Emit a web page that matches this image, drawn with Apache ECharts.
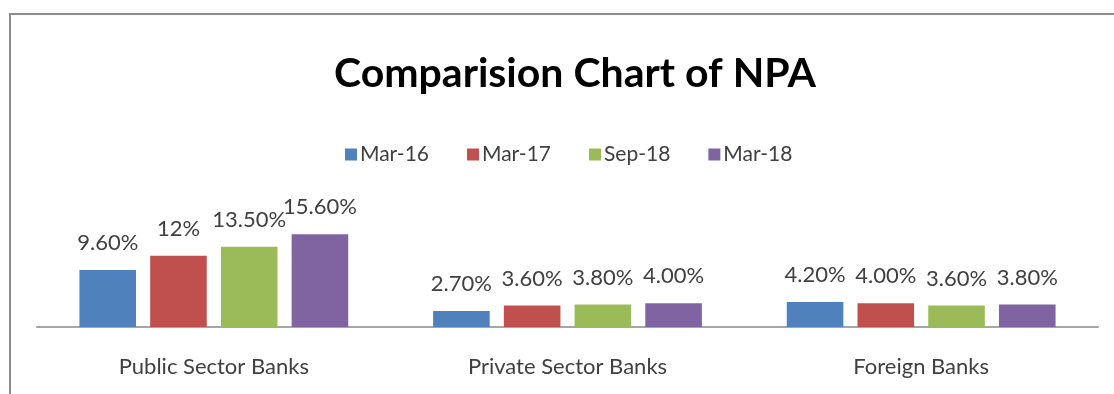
<!DOCTYPE html>
<html>
<head>
<meta charset="utf-8">
<title>Comparision Chart of NPA</title>
<script src="https://cdn.jsdelivr.net/npm/echarts@6/dist/echarts.min.js"></script>
<style>
  html, body { margin: 0; padding: 0; background: #fff; }
  #chart { width: 1114px; height: 394px; }
</style>
</head>
<body>
<div id="chart"></div>
<script>
// Bank groups along the x axis
const categories = ['Public Sector Banks', 'Private Sector Banks', 'Foreign Banks'];

// Reporting periods, one series each
const periods = ['Mar-16', 'Mar-17', 'Sep-18', 'Mar-18'];

// NPA ratio (%) per bank group for each period
const mar16 = [9.6, 2.7, 4.2];
const mar17 = [12, 3.6, 4.0];
const sep18 = [13.5, 3.8, 3.6];
const mar18 = [15.6, 4.0, 3.8];

// Text shown above each bar
const labelsMar16 = ['9.60%', '2.70%', '4.20%'];
const labelsMar17 = ['12%', '3.60%', '4.00%'];
const labelsSep18 = ['13.50%', '3.80%', '3.60%'];
const labelsMar18 = ['15.60%', '4.00%', '3.80%'];

const colors = ['#4F81BD', '#C0504D', '#9BBB59', '#8064A2'];
const font = 'Lato, "Open Sans", "DejaVu Sans", sans-serif';

const seriesValues = [mar16, mar17, sep18, mar18];
const seriesLabels = [labelsMar16, labelsMar17, labelsSep18, labelsMar18];

const chart = echarts.init(document.getElementById('chart'), null, { renderer: 'canvas' });

chart.setOption({
  animation: false,
  backgroundColor: '#ffffff',
  color: colors,
  title: {
    text: 'Comparision Chart of NPA',
    left: 570,
    top: 48,
    textAlign: 'center',
    textStyle: { fontFamily: font, fontSize: 41, fontWeight: 'bold', color: '#000' }
  },
  legend: {
    data: periods,
    left: 340,
    top: 139,
    icon: 'rect',
    itemWidth: 12,
    itemHeight: 12,
    itemGap: 38,
    textStyle: { fontFamily: font, fontSize: 21, color: '#404040', padding: [0, 0, 0, -2] }
  },
  grid: { left: 37, right: 16, top: 220, bottom: 67, containLabel: false },
  xAxis: {
    type: 'category',
    data: categories,
    axisLine: { show: true, lineStyle: { color: '#a6a6a6', width: 2 } },
    axisTick: { show: false },
    axisLabel: { fontFamily: font, fontSize: 22, color: '#404040', margin: 29 }
  },
  yAxis: {
    type: 'value',
    min: 0,
    max: 18,
    show: false,
    splitLine: { show: false }
  },
  graphic: [{
    type: 'polyline',
    shape: { points: [[10, 394], [10, 14], [1114, 14]] },
    style: { stroke: '#8c8c8c', lineWidth: 2, fill: null },
    silent: true
  }],
  series: periods.map((name, i) => ({
    name: name,
    type: 'bar',
    data: seriesValues[i],
    barGap: '25%',
    barCategoryGap: '24%',
    label: {
      show: true,
      position: 'top',
      distance: 16,
      fontFamily: font,
      fontSize: 22,
      color: '#404040',
      formatter: p => seriesLabels[i][p.dataIndex]
    }
  }))
});
</script>
</body>
</html>
